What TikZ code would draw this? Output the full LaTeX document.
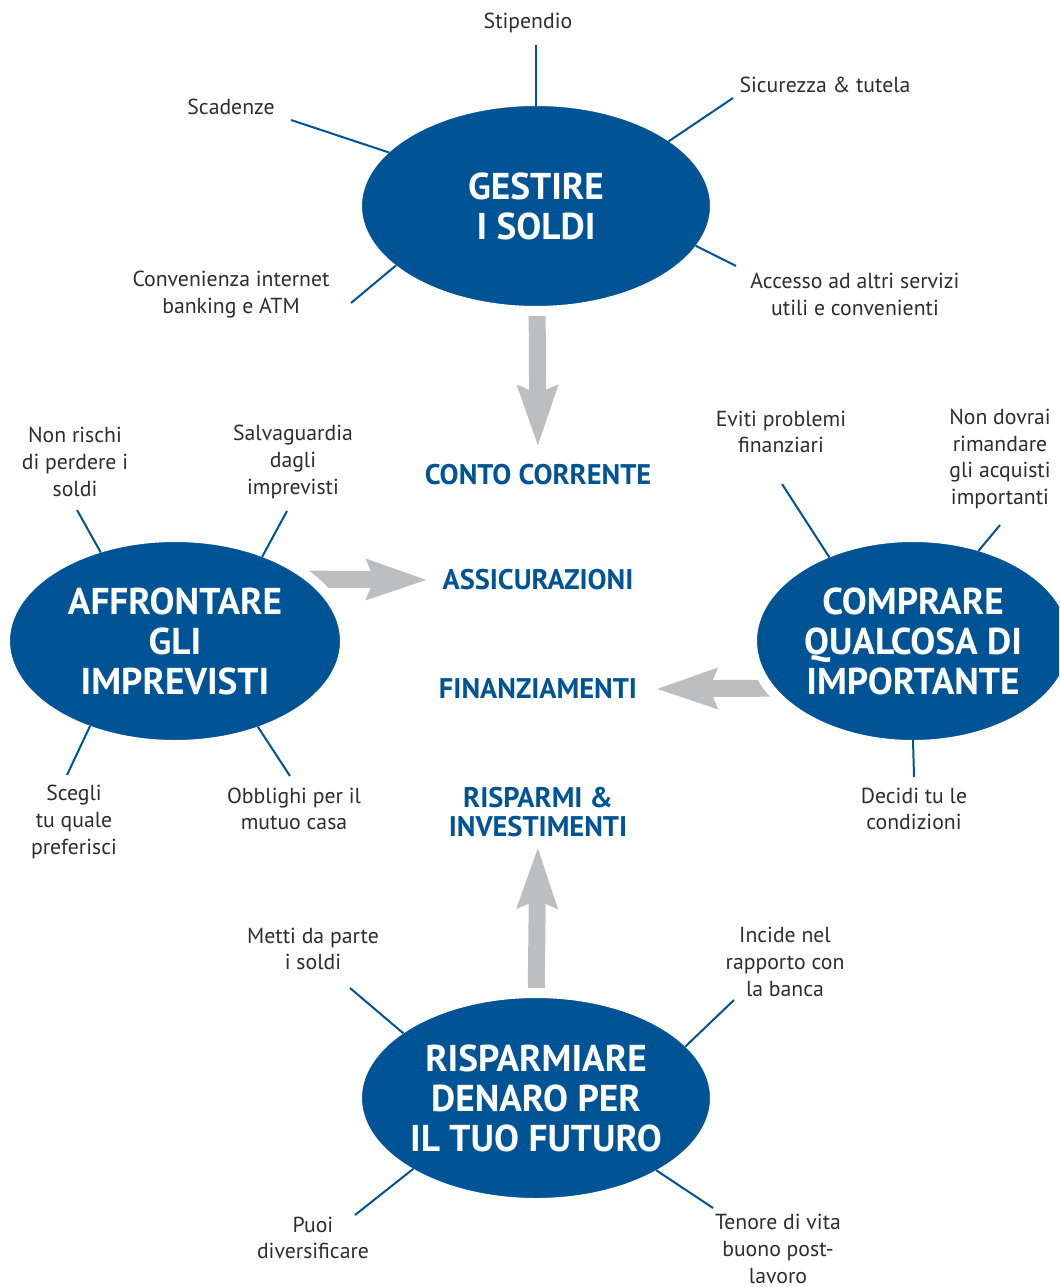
\documentclass[tikz,border=0pt]{standalone}
\usepackage{fontspec}
\setmainfont{PT Sans}
\usetikzlibrary{shapes.geometric,arrows.meta}

\definecolor{bank blue}{RGB}{0,84,150}
\definecolor{arrow gray}{RGB}{188,190,192}
\definecolor{label gray}{RGB}{45,45,45}

\begin{document}
\begin{tikzpicture}[x=0.75pt, y=-0.75pt,
  topic/.style={ellipse, fill=bank blue, draw=white, line width=7.5pt, outer sep=-3.75pt,
    inner sep=0pt, text=white, align=center, font=\bfseries\fontsize{28}{30}\selectfont},
  product/.style={inner sep=0pt, text=bank blue, align=center, font=\bfseries\fontsize{21.3}{22}\selectfont},
  note/.style={inner sep=0pt, text=label gray, align=center, font=\fontsize{16.3}{20}\selectfont},
  spoke/.style={draw=bank blue, line width=1.5pt},
  flow/.style={draw=arrow gray, line width=12.75pt,
    -{Stealth[length=45.75pt, width=31.5pt, inset=6.75pt, line width=0pt]}}]

% The page is 1059 x 1287 (pixels of the reference), origin top left
\useasboundingbox (0,0) rectangle (1059,1287);
\clip (0,0) rectangle (1059,1287);

% Products in the middle
\node[product] (conto)    at (538,475) {CONTO CORRENTE};
\node[product] (assic)    at (538,580) {ASSICURAZIONI};
\node[product] (finanz)   at (538,689) {FINANZIAMENTI};
\node[product] (risparmi) at (538,812) {RISPARMI \&\\INVESTIMENTI};

% Gray arrows, they start under the ellipses (the white rim cuts them)
\coordinate (gestire out)     at (537,290);
\coordinate (affrontare out)  at (290,579);
\coordinate (comprare out)    at (800,688);
\coordinate (risparmiare out) at (536,1010);

\draw[flow, shorten >=14.25pt] (gestire out) -- (conto.north);
\draw[flow, shorten >=12pt]    (affrontare out) -- (assic.west);
\draw[flow, shorten >=15pt]    (comprare out) -- (finanz.east);
\draw[flow, shorten >=8.25pt]  (risparmiare out) -- (risparmi.south);

% The four topics
\node[topic, minimum width=268.5pt, minimum height=157.5pt] (gestire)     at (536,206)  {GESTIRE\\I SOLDI};
\node[topic, minimum width=255pt,   minimum height=156pt]   (affrontare)  at (175,641)  {AFFRONTARE\\GLI\\IMPREVISTI};
\node[topic, minimum width=241.5pt, minimum height=156pt]   (comprare)    at (913,641)  {COMPRARE\\QUALCOSA DI\\IMPORTANTE};
\node[topic, minimum width=268.5pt, minimum height=157.5pt] (risparmiare) at (536,1098) {RISPARMIARE\\DENARO PER\\IL TUO FUTURO};

% Notes around "gestire"
\node[note] (stipendio)   at (528,23)    {Stipendio};
\node[note] (sicurezza)   at (825,85)    {Sicurezza \& tutela};
\node[note] (scadenze)    at (231,107)   {Scadenze};
\node[note] (convenienza) at (231,294.5) {Convenienza internet\\banking e ATM};
\node[note] (accesso)     at (855,294.5) {Accesso ad altri servizi\\utili e convenienti};

\coordinate (stipendio end)   at (536,45);
\coordinate (sicurezza end)   at (733,98);
\coordinate (scadenze end)    at (291,120);
\coordinate (convenienza end) at (351,303);
\coordinate (accesso end)     at (736,266);

\draw[spoke] (gestire.90)    -- (stipendio end);
\draw[spoke] (gestire.26)    -- (sicurezza end);
\draw[spoke] (gestire.160)   -- (scadenze end);
\draw[spoke] (gestire.203.5) -- (convenienza end);
\draw[spoke] (gestire.346.7) -- (accesso end);

% Notes around "affrontare"
\node[note] (rischi)       at (75,462)  {Non rischi\\di perdere i\\soldi};
\node[note] (salvaguardia) at (293,462) {Salvaguardia\\dagli\\imprevisti};
\node[note] (scegli)       at (74,822)  {Scegli\\tu quale\\preferisci};
\node[note] (obblighi)     at (294,809) {Obblighi per il\\mutuo casa};

\coordinate (rischi end)       at (77,510);
\coordinate (salvaguardia end) at (287,511);
\coordinate (scegli end)       at (67,775);
\coordinate (obblighi end)     at (290,776);

\draw[spoke] (affrontare.130)  -- (rischi end);
\draw[spoke] (affrontare.44.3) -- (salvaguardia end);
\draw[spoke] (affrontare.225)  -- (scegli end);
\draw[spoke] (affrontare.314)  -- (obblighi end);

% Notes around "comprare"
\node[note] (eviti)   at (781,432)  {Eviti problemi\\finanziari};
\node[note] (dovrai)  at (1000,459) {Non dovrai\\rimandare\\gli acquisti\\importanti};
\node[note] (decidi)  at (914,809)  {Decidi tu le\\condizioni};

\coordinate (eviti end)  at (782,484);
\coordinate (dovrai end) at (1000,525);
\coordinate (decidi end) at (914,777);

\draw[spoke] (comprare.135.3) -- (eviti end);
\draw[spoke] (comprare.54.6)  -- (dovrai end);
\draw[spoke] (comprare.270)   -- (decidi end);

% Notes around "risparmiare"
\node[note] (metti)   at (313,949)  {Metti da parte\\i soldi};
\node[note] (incide)  at (785,962)  {Incide nel\\rapporto con\\la banca};
\node[note] (puoi)    at (313,1238) {Puoi\\diversificare};
\node[note] (tenore)  at (778,1249) {Tenore di vita\\buono post-\\lavoro};

\coordinate (metti end)  at (350,988);
\coordinate (incide end) at (734,1000);
\coordinate (puoi end)   at (355,1215);
\coordinate (tenore end) at (713,1208);

\draw[spoke] (risparmiare.154)   -- (metti end);
\draw[spoke] (risparmiare.19.5)  -- (incide end);
\draw[spoke] (risparmiare.210.4) -- (puoi end);
\draw[spoke] (risparmiare.329.7) -- (tenore end);

\end{tikzpicture}
\end{document}
